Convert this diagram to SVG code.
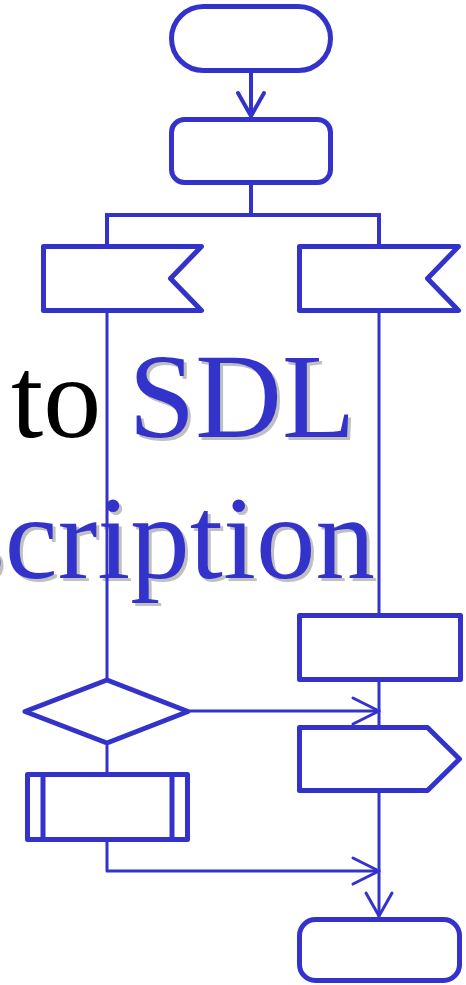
<svg xmlns="http://www.w3.org/2000/svg" width="466" height="985" viewBox="0 0 466 985">
  <style>
    .shape { fill: none; stroke: #3333cc; stroke-width: 5; stroke-linejoin: round; }
    .conn { fill: none; stroke: #3333cc; stroke-width: 3; stroke-linecap: round; stroke-linejoin: round; }
    .bar { fill: none; stroke: #3333cc; stroke-width: 4; }
    .title { font-family: "Liberation Serif", "Times New Roman", serif; }
    .blue { fill: #3333cc; }
    .shadow { fill: #c0c0c0; }
    .black { fill: #000000; }
  </style>

  <rect width="466" height="985" fill="#ffffff"/>

  <!-- Title text (drawn beneath the flow lines) -->
  <g id="title">
    <text class="title shadow" x="131.5" y="440" font-size="120">SDL</text>
    <text class="title black" x="11" y="437" font-size="116">to</text>
    <text class="title blue" x="128.5" y="437" font-size="120">SDL</text>
    <text class="title shadow" x="378" y="581" font-size="119" text-anchor="end">scription</text>
    <text class="title blue" x="375" y="578" font-size="119" text-anchor="end">scription</text>
  </g>

  <!-- Connectors -->
  <g id="connectors">
    <line class="conn" x1="251" y1="73" x2="251" y2="116" style="stroke-width:4"/>
    <polyline class="conn" points="238,93 251,116 264,93" style="stroke-width:4"/>
    <line class="bar" x1="251" y1="185" x2="251" y2="215"/>
    <polyline class="bar" points="107,246 107,215 379,215 379,246"/>
    <line class="conn" x1="107" y1="313" x2="107" y2="678"/>
    <line class="conn" x1="379" y1="313" x2="379" y2="613"/>
    <line class="conn" x1="379" y1="682" x2="379" y2="725"/>
    <line class="conn" x1="190" y1="711" x2="379" y2="711"/>
    <polyline class="conn" points="353,698 379,711 353,724"/>
    <line class="conn" x1="107" y1="746" x2="107" y2="772"/>
    <polyline class="conn" points="107,842 107,871 379,871"/>
    <polyline class="conn" points="353,858 379,871 353,884"/>
    <line class="conn" x1="379" y1="793" x2="379" y2="916"/>
    <polyline class="conn" points="366,893 379,916 392,893"/>
  </g>

  <!-- Nodes -->
  <g id="start">
    <rect class="shape" x="171.5" y="6.5" width="159" height="64" rx="32" ry="32"/>
  </g>
  <g id="task-top">
    <rect class="shape" x="171.5" y="119.5" width="159" height="63" rx="13" ry="13"/>
  </g>
  <g id="input-left">
    <polygon class="shape" points="43.5,246.5 201.5,246.5 170.5,278.5 201.5,310.5 43.5,310.5"/>
  </g>
  <g id="input-right">
    <polygon class="shape" points="299.5,246.5 458.5,246.5 427.5,278.5 458.5,310.5 299.5,310.5"/>
  </g>
  <g id="task-right">
    <rect class="shape" x="299.5" y="615.5" width="161" height="64"/>
  </g>
  <g id="decision">
    <polygon class="shape" points="107,680 188,711.5 107,743 25,711.5"/>
  </g>
  <g id="output">
    <polygon class="shape" points="299.5,727.5 427.5,727.5 459.5,759 427.5,790.5 299.5,790.5"/>
  </g>
  <g id="procedure">
    <rect class="shape" x="27.5" y="774.5" width="160" height="65"/>
    <line class="shape" x1="43" y1="774.5" x2="43" y2="839.5"/>
    <line class="shape" x1="172" y1="774.5" x2="172" y2="839.5"/>
  </g>
  <g id="end">
    <rect class="shape" x="299.5" y="919.5" width="160" height="61" rx="16" ry="16"/>
  </g>
</svg>
